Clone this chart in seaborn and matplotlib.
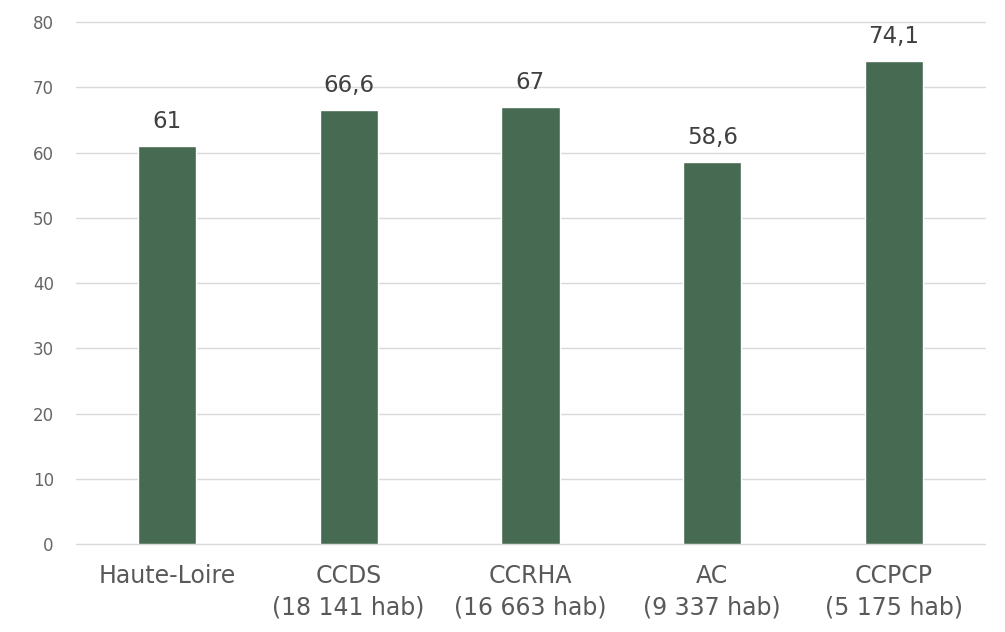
import matplotlib
matplotlib.use("Agg")
import matplotlib.pyplot as plt
import seaborn as sns
import pandas as pd

categories = ["Haute-Loire", "CCDS\n(18 141 hab)", "CCRHA\n(16 663 hab)",
              "AC\n(9 337 hab)", "CCPCP\n(5 175 hab)"]
values = [61, 66.6, 67, 58.6, 74.1]
value_labels = ["61", "66,6", "67", "58,6", "74,1"]
yticks = [0, 10, 20, 30, 40, 50, 60, 70, 80]

sns.set_theme(style="white")
plt.rcParams["font.family"] = ["DejaVu Sans"]

df = pd.DataFrame({"cat": categories, "val": values})

fig = plt.figure(figsize=(10.05, 6.32), dpi=100)
ax = fig.add_axes([0.0756, 0.139, 0.9044, 0.826])

sns.barplot(data=df, x="cat", y="val", color="#476B52", saturation=1,
            width=0.32, ax=ax, zorder=3)

for i, (v, lab) in enumerate(zip(values, value_labels)):
    ax.text(i, v + 2.0, lab, ha="center", va="bottom", fontsize=16.5,
            color="#404040")

ax.set_ylim(0, 80)
ax.set_xlim(-0.5, 4.5)
ax.set_yticks(yticks)
ax.set_yticklabels([str(t) for t in yticks], fontsize=12, color="#666666")
ax.set_xticks(range(len(categories)))
ax.set_xticklabels(categories, fontsize=17, color="#595959", linespacing=1.4)
ax.tick_params(axis="both", length=0)
ax.tick_params(axis="y", pad=16)
ax.tick_params(axis="x", pad=14)
ax.set_xlabel("")
ax.set_ylabel("")
ax.yaxis.grid(True, color="#D9D9D9", linewidth=1.0, zorder=0)
for gl in ax.get_ygridlines():
    gl.set_clip_on(False)
for s in ax.spines.values():
    s.set_visible(False)

fig.savefig("out.png", dpi=100)
